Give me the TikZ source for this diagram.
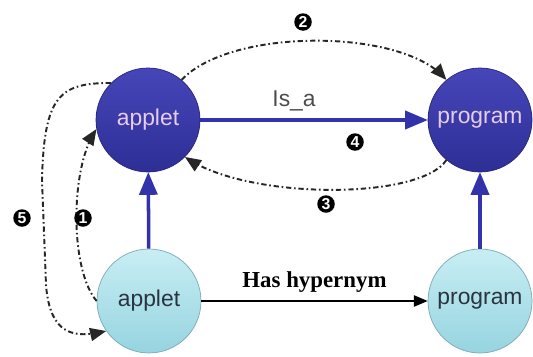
\documentclass[tikz,border=0pt]{standalone}
\usepackage{fontspec}
\setmainfont{Liberation Serif}
\setsansfont{Liberation Sans}
\usetikzlibrary{arrows}
\usetikzlibrary{shapes.geometric, positioning, calc}
\usepackage{xcolor}

\definecolor{darkball}{RGB}{46,46,150}
\definecolor{darkballtop}{RGB}{70,70,185}
\definecolor{lightball}{RGB}{150,212,224}
\definecolor{lightballtop}{RGB}{200,238,244}
\definecolor{isablue}{RGB}{50,50,170}

\tikzset{
  upper/.style={circle, minimum size=2.08cm, inner sep=0pt, draw=darkball!80!black, line width=0.4pt,
    top color=darkballtop, bottom color=darkball, text={rgb,255:red,230;green,205;blue,235},
    font=\sffamily\fontsize{13}{15}\selectfont},
  lower/.style={circle, minimum size=2.08cm, inner sep=0pt, draw=lightball!80!black, line width=0.4pt,
    top color=lightballtop, bottom color=lightball, text={rgb,255:red,40;green,52;blue,64},
    font=\sffamily\fontsize{13}{15}\selectfont},
  flow/.style={-triangle 45, line width=1.1pt, black!85,
    dash pattern=on 3pt off 1.6pt on 0.9pt off 1.6pt},
  isa/.style={-triangle 45, line width=2pt, isablue},
  badge/.style={circle, fill=black, text=white, inner sep=0pt, minimum size=0.35cm,
    font=\sffamily\bfseries\fontsize{9}{9}\selectfont}
}

\begin{document}
\begin{tikzpicture}
      \useasboundingbox (0, 0) rectangle (10.66, 7.12);

      \node[upper] (appT) at (2.96, 4.72) {applet};
      \node[upper] (progT) at (9.60, 4.72) {program};
      \node[lower] (appB) at (2.98, 1.10) {applet};
      \node[lower] (progB) at (9.60, 1.10) {program};

      \draw[isa] (appT) -- (progT) node[midway, above=1pt, xshift=-0.4cm, text=black!70, font=\sffamily\fontsize{13}{15}\selectfont] (isalabel) {Is\_a};
      \draw[isa] (appB) -- (appT);
      \draw[isa] (progB) -- (progT);
      \draw[-triangle 45, line width=0.8pt] (appB) -- (progB) node[midway, above=1pt, font=\bfseries\fontsize{13}{15}\selectfont] (hyplabel) {Has hypernym};

      % numbered steps
      \draw[flow] (appB.180) .. controls (1.40, 1.72) and (1.40, 3.72) .. (appT.190);
      \draw[flow] (appT.50) .. controls (4.60, 6.56) and (8.00, 6.56) .. (progT.130);
      \draw[flow] (progT.230) .. controls (8.40, 3.12) and (5.00, 3.12) .. (appT.315);
      \draw[flow] (appT.135) .. controls (1.20, 5.46) and (0.88, 5.22) .. (0.84, 3.52)
                  -- (0.92, 1.42) .. controls (1.00, 0.40) and (1.50, 0.36) .. (appB.215);

      \node[badge] (b1) at (1.66, 2.76) {1};
      \node[badge] (b2) at (6.06, 6.68) {2};
      \node[badge] (b3) at (6.52, 3.04) {3};
      \node[badge] (b4) at (7.10, 4.28) {4};
      \node[badge] (b5) at (0.44, 2.76) {5};

    \end{tikzpicture}
\end{document}
